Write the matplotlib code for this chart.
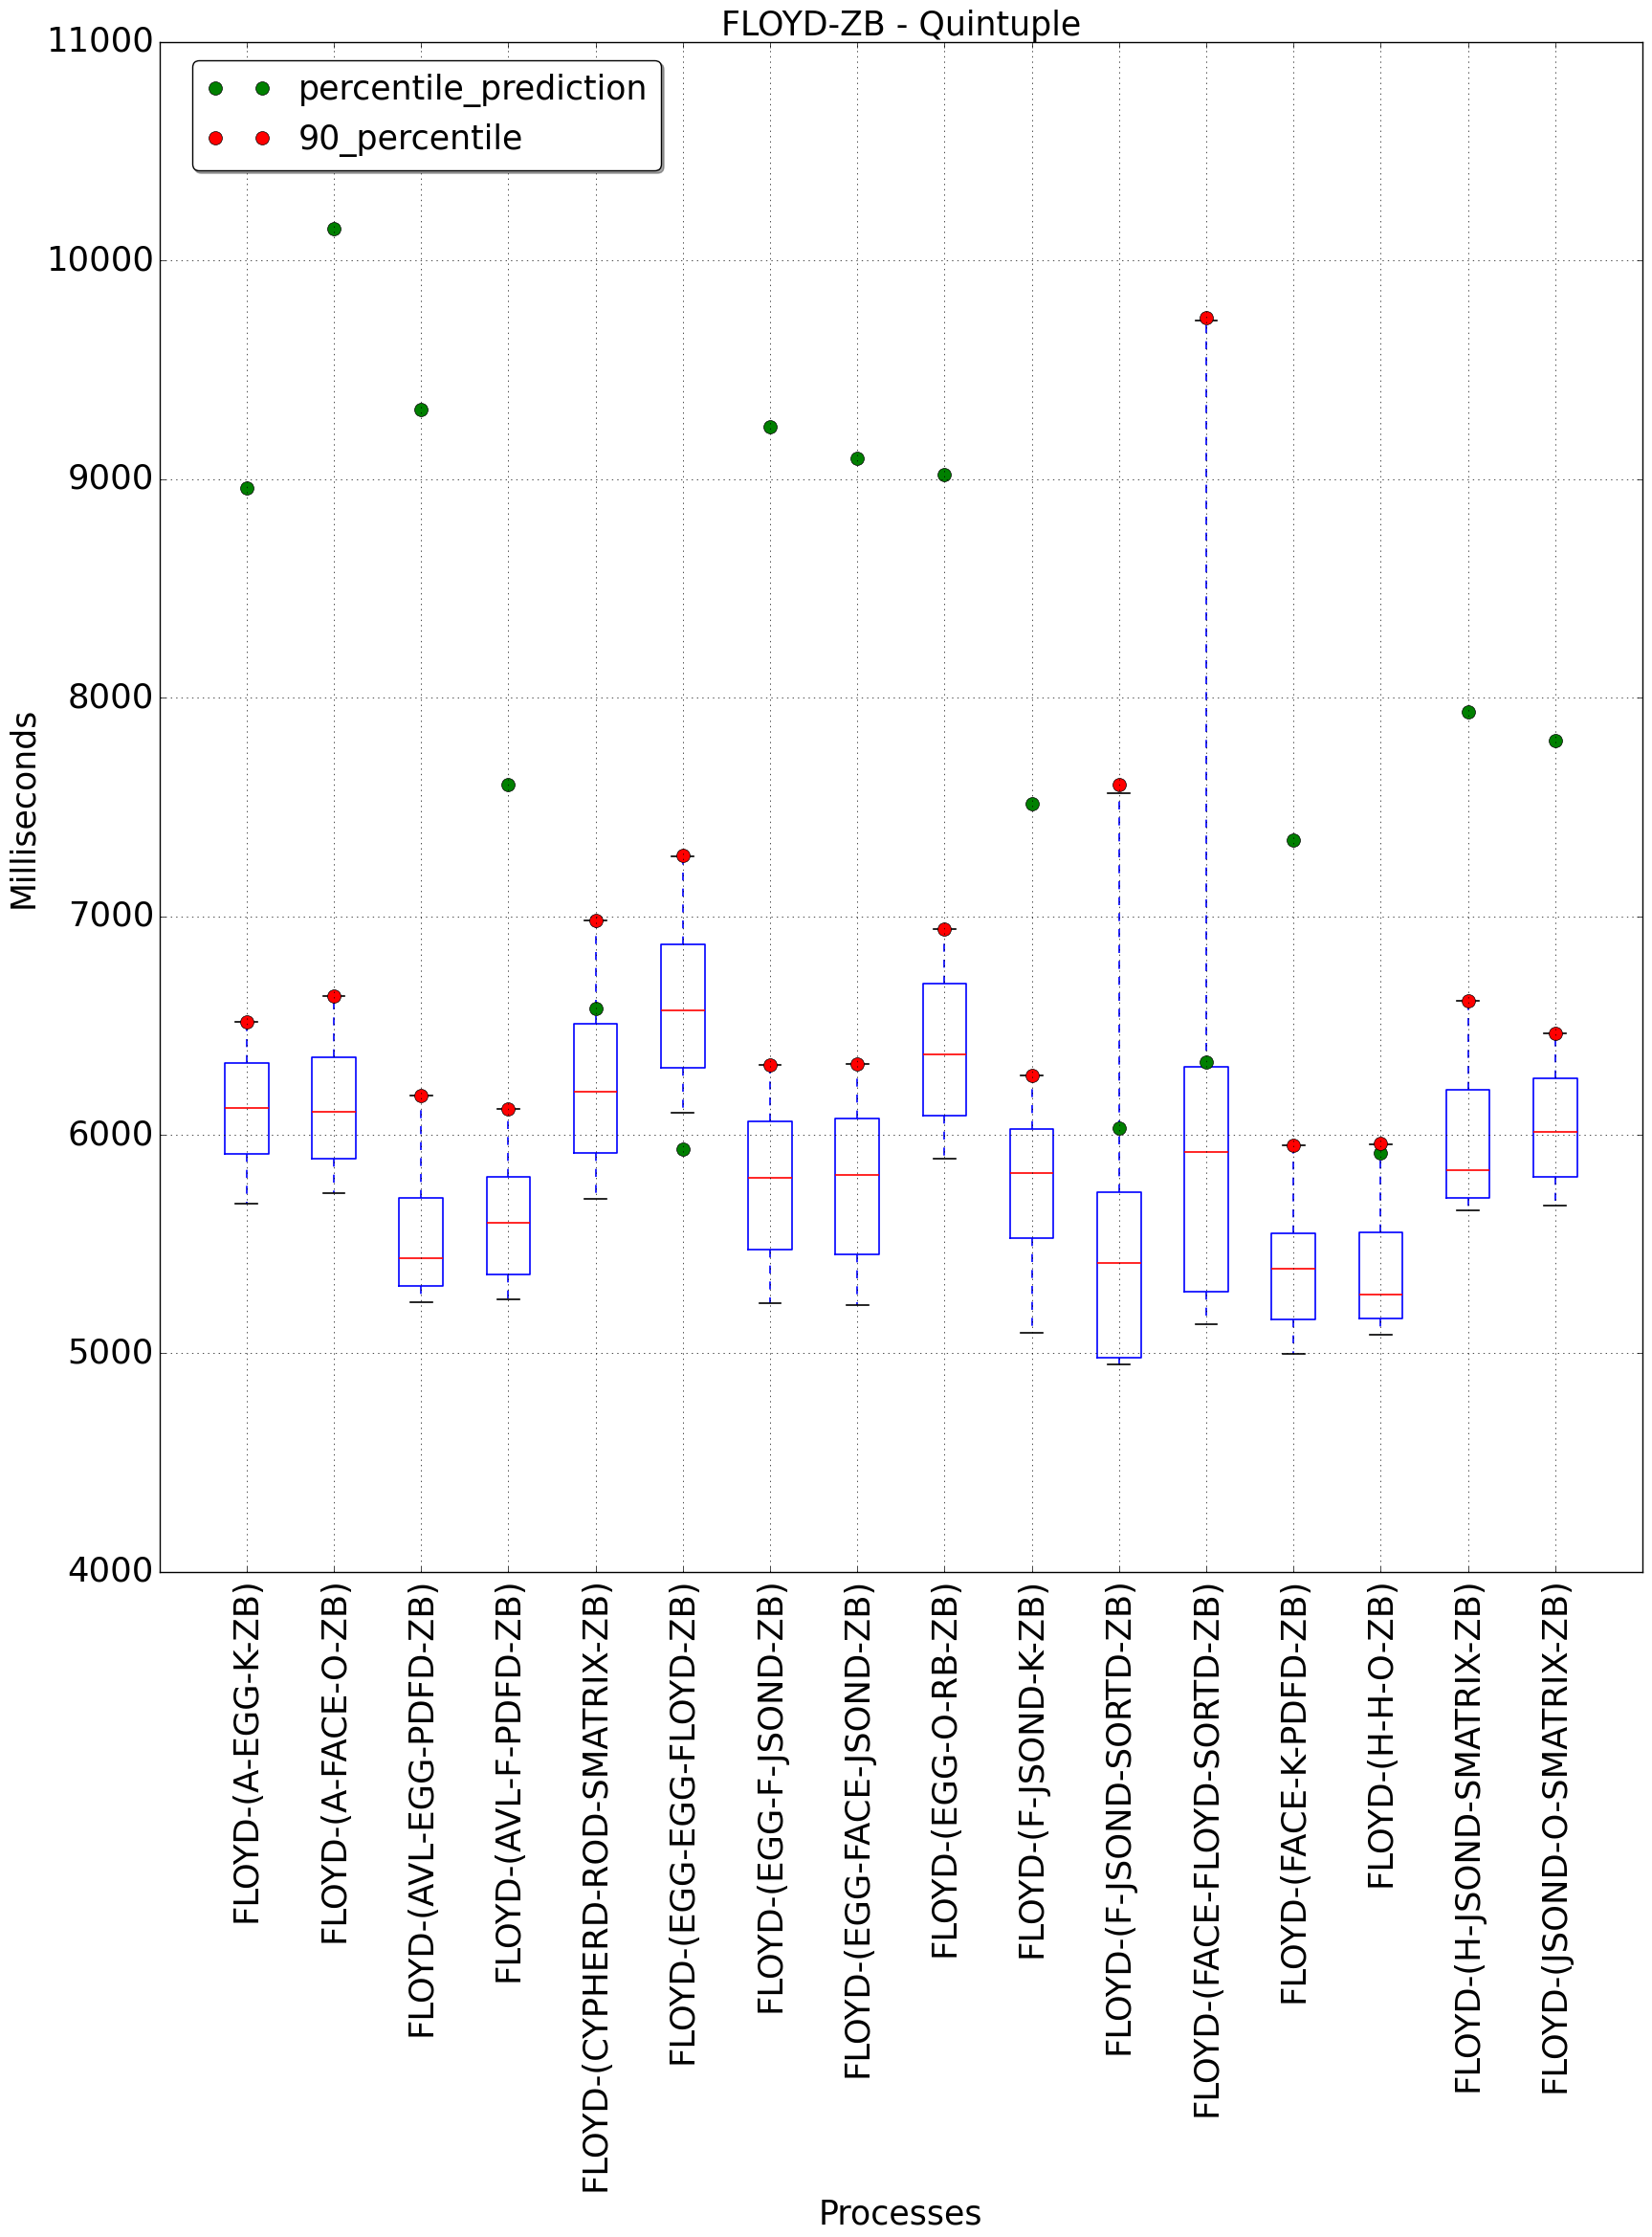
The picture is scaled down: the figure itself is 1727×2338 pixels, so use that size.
import matplotlib
matplotlib.use('Agg')
import matplotlib.pyplot as plt

plt.style.use('classic')
plt.rcParams['font.family'] = 'DejaVu Sans'
plt.rcParams['font.size'] = 25

processes = ['FLOYD-(A-EGG-K-ZB)', 'FLOYD-(A-FACE-O-ZB)', 'FLOYD-(AVL-EGG-PDFD-ZB)',
             'FLOYD-(AVL-F-PDFD-ZB)', 'FLOYD-(CYPHERD-ROD-SMATRIX-ZB)',
             'FLOYD-(EGG-EGG-FLOYD-ZB)', 'FLOYD-(EGG-F-JSOND-ZB)', 'FLOYD-(EGG-FACE-JSOND-ZB)',
             'FLOYD-(EGG-O-RB-ZB)', 'FLOYD-(F-JSOND-K-ZB)', 'FLOYD-(F-JSOND-SORTD-ZB)',
             'FLOYD-(FACE-FLOYD-SORTD-ZB)', 'FLOYD-(FACE-K-PDFD-ZB)', 'FLOYD-(H-H-O-ZB)',
             'FLOYD-(H-JSOND-SMATRIX-ZB)', 'FLOYD-(JSOND-O-SMATRIX-ZB)']

# box statistics (ms)
whislo = [5687, 5732, 5233, 5246, 5705, 6100, 5228, 5219, 5889, 5092, 4951, 5134, 4996, 5087, 5655, 5676]
q1 = [5911, 5889, 5308, 5363, 5916, 6305, 5474, 5452, 6087, 5528, 4980, 5282, 5157, 5161, 5713, 5807]
med = [6121, 6104, 5434, 5596, 6199, 6571, 5802, 5816, 6370, 5824, 5414, 5920, 5388, 5270, 5837, 6012]
q3 = [6327, 6353, 5710, 5806, 6506, 6873, 6060, 6074, 6693, 6025, 5737, 6313, 5551, 5555, 6208, 6260]
whishi = [6515, 6635, 6178, 6117, 6982, 7275, 6322, 6326, 6943, 6270, 7562, 9728, 5952, 5958, 6612, 6466]

percentile_prediction = [8958, 10146, 9318, 7604, 6576, 5936, 9240, 9097, 9019, 7517,
                         6032, 6331, 7348, 5916, 7935, 7804]
percentile_90 = [6515, 6635, 6178, 6117, 6982, 7278, 6322, 6326, 6943, 6270,
                 7604, 9740, 5952, 5959, 6614, 6466]

positions = list(range(1, len(processes) + 1))
stats = []
for i in range(len(processes)):
    stats.append(dict(whislo=whislo[i], q1=q1[i], med=med[i], q3=q3[i],
                      whishi=whishi[i], fliers=[]))

fig = plt.figure(figsize=(17.27, 23.38), dpi=100)
ax = fig.add_axes([0.0965, 0.2973, 0.8977, 0.6839])

lw = 1.2
ax.bxp(stats, positions=positions, widths=0.5,
       boxprops=dict(color='b', linewidth=lw),
       whiskerprops=dict(color='b', linestyle='--', linewidth=lw),
       capprops=dict(color='k', linewidth=lw),
       medianprops=dict(color='r', linewidth=lw))

ax.plot(positions, percentile_prediction, 'go', markersize=10, label='percentile_prediction')
ax.plot(positions, percentile_90, 'ro', markersize=10, label='90_percentile')

ax.set_xlim(0, 17)
ax.set_ylim(4000, 11000)
ax.set_xticks(positions)
ax.set_xticklabels(processes, rotation=90, fontsize=25.5)
ax.tick_params(axis='y', labelsize=25.5)
ax.grid(True)
ax.set_title('FLOYD-ZB - Quintuple', fontsize=25)
ax.set_xlabel('Processes')
ax.set_ylabel('Milliseconds')
ax.legend(loc='upper left', bbox_to_anchor=(0.022, 0.988), borderaxespad=0,
          numpoints=2, shadow=True, fancybox=True, fontsize=25)

fig.savefig('out.png', dpi=100)
